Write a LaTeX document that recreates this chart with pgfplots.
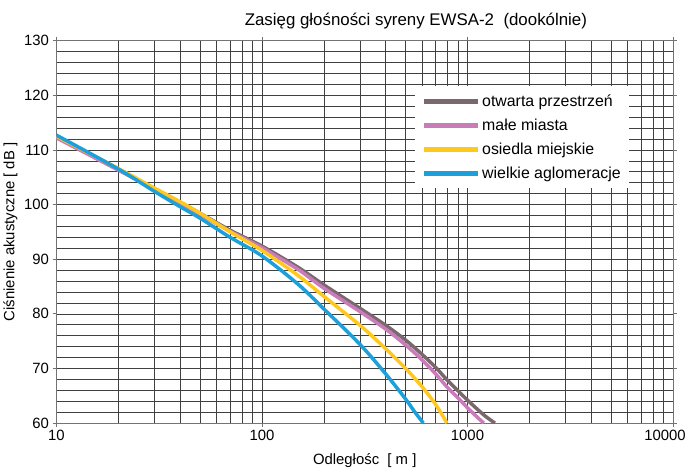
\documentclass[border=0pt]{standalone}
\usepackage{fontspec}
\setmainfont{Liberation Sans}
\usepackage{pgfplots}
\pgfplotsset{compat=1.18}
\definecolor{cOpen}{RGB}{122,104,110}
\definecolor{cSmall}{RGB}{200,125,185}
\definecolor{cSettle}{RGB}{255,200,30}
\definecolor{cCity}{RGB}{27,160,220}
\begin{document}
\begin{tikzpicture}
\begin{axis}[
    scale only axis,
    width=619bp, height=384bp,
    xmode=log,
    xmin=10, xmax=10000,
    ymin=60, ymax=130,
    xtick={10,100,1000,10000},
    xticklabels={10,100,1000,\hspace*{-16bp}10000},
    minor xtick={20,30,40,50,60,70,80,90,200,300,400,500,600,700,800,900,2000,3000,4000,5000,6000,7000,8000,9000},
    ytick={60,70,...,130},
    minor ytick={62,64,...,128},
    grid=both,
    major grid style={black!75, line width=0.6pt},
    minor grid style={black!75, line width=0.6pt},
    axis line style={black!55, line width=0.8pt},
    tick align=outside,
    major tick length=4bp,
    minor tick length=0pt,
    tick style={black!55, line width=0.8pt},
    /pgf/number format/assume math mode=true,
    ticklabel style={font=\fontsize{15}{17}\selectfont},
    title={Zasięg głośności syreny EWSA-2\ \ (dookólnie)},
    title style={at={(0.583,1)}, anchor=south, yshift=2bp, font=\fontsize{17}{19}\selectfont},
    xlabel={Odległośc\ \ [ m ]},
    ylabel={Ciśnienie akustyczne [ dB ]},
    label style={font=\fontsize{15}{17}\selectfont},
    xlabel style={yshift=-6bp},
    legend style={at={(0.582,0.883)}, anchor=north west, draw=none, fill=white,
        font=\fontsize{16}{18}\selectfont, row sep=7bp, inner xsep=6bp, inner ysep=7bp,
        cells={anchor=west}},
    legend image code/.code={\draw[#1, line width=5bp] (0bp,0bp) -- (54bp,0bp);},
]
\addplot[cOpen, line width=3.5bp, smooth] coordinates {
    (10,112.4) (20,106.4) (30,102.9) (40,100.4) (50,98.4) (70,95.3) (100,92.4)
    (150,88.5) (200,85.3) (300,81.0) (400,77.9) (500,75.2) (600,72.6) (700,70.2)
    (800,67.8) (900,65.9) (1000,64.2) (1200,61.5) (1360,60)
};
\addlegendentry{otwarta przestrzeń}
\addplot[cSmall, line width=3.5bp, smooth] coordinates {
    (10,112.2) (20,106.3) (30,102.8) (40,100.3) (50,98.2) (70,95.1) (100,92.1)
    (150,88.1) (200,84.7) (300,80.4) (400,77.2) (500,74.3) (600,71.6) (700,69.0)
    (800,66.5) (900,64.6) (1000,62.8) (1100,61.3) (1200,60)
};
\addlegendentry{małe miasta}
\addplot[cSettle, line width=3.5bp, smooth] coordinates {
    (10,112.5) (20,106.6) (30,103.0) (40,100.5) (50,98.4) (70,95.0) (100,91.6)
    (150,87.0) (200,83.2) (300,77.9) (400,73.6) (500,70.0) (600,66.7) (700,63.4)
    (795,60)
};
\addlegendentry{osiedla miejskie}
\addplot[cCity, line width=3.5bp, smooth] coordinates {
    (10,112.7) (20,106.5) (30,102.4) (40,99.6) (50,97.5) (70,94.0) (100,90.6)
    (150,85.4) (200,80.9) (300,74.4) (400,69.0) (500,64.4) (550,62.2) (610,60)
};
\addlegendentry{wielkie aglomeracje}
\end{axis}
\path ([yshift=10bp]current bounding box.north);
\end{tikzpicture}
\end{document}
